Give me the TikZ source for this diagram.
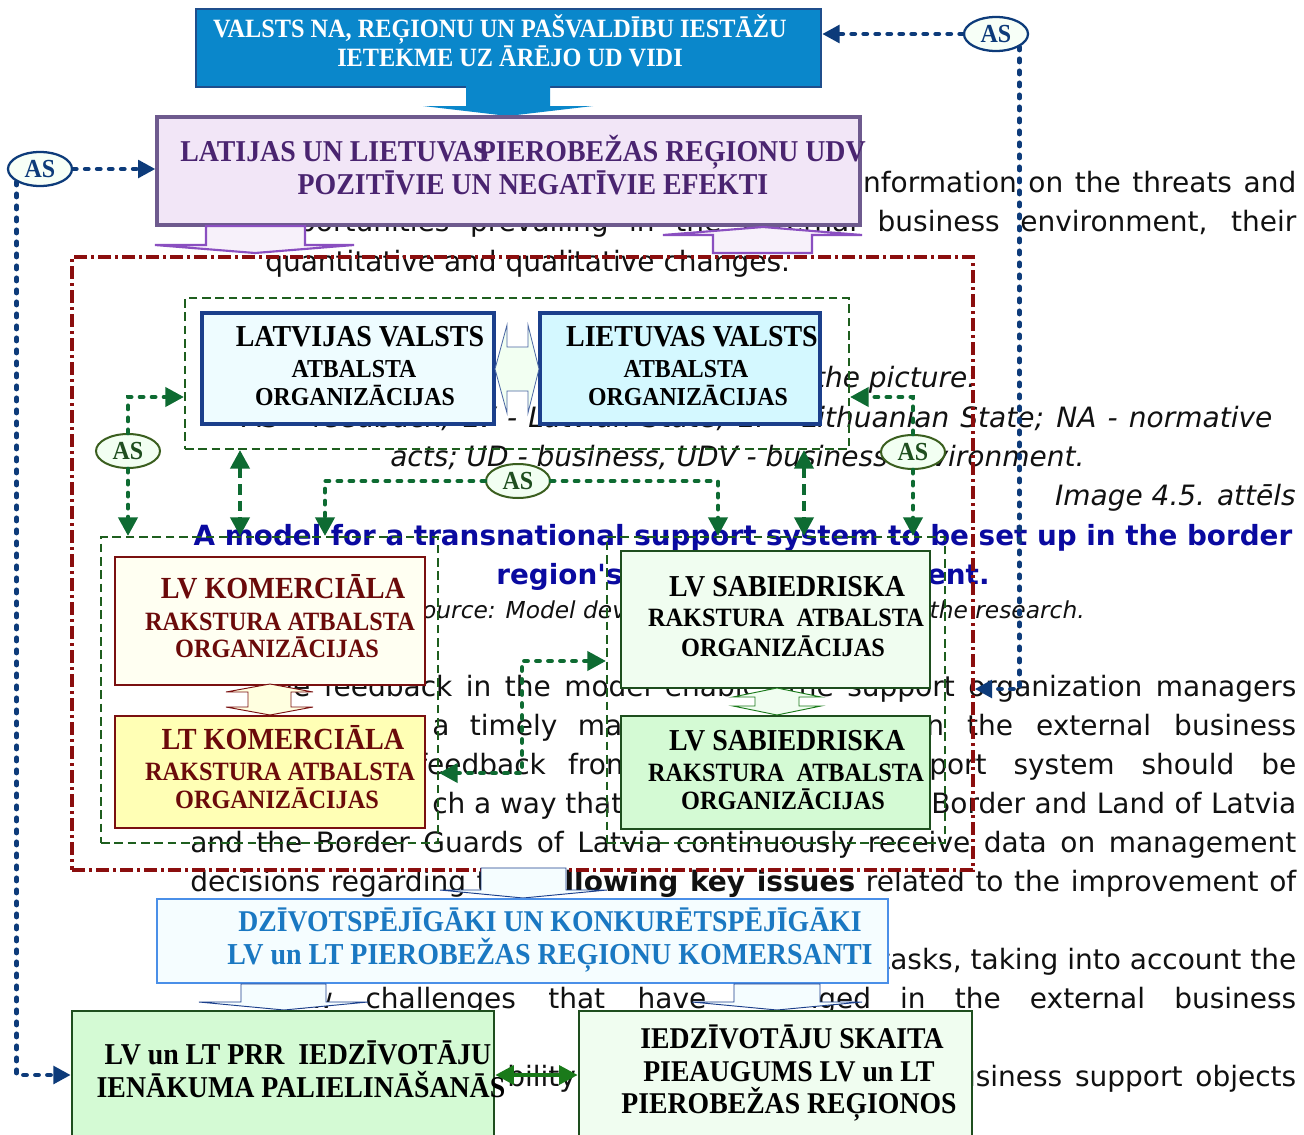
\documentclass[tikz,border=0pt]{standalone}
\usepackage{fontspec}
\usetikzlibrary{arrows.meta,shapes.geometric}
\setmainfont{Liberation Serif}
\newfontfamily\bgfont{DejaVu Sans}
\newfontfamily\dgfont[FakeStretch=0.92]{Liberation Serif}
\newcommand\dsz[1]{\dgfont\bfseries\fontsize{#1}{#1}\selectfont}
\newcommand\bsz[1]{\bgfont\fontsize{#1}{#1}\selectfont}
\definecolor{topblue}{HTML}{0A87CB}
\definecolor{topborder}{HTML}{1F4E8C}
\definecolor{purfill}{HTML}{F2E6F7}
\definecolor{purborder}{HTML}{6E5A8E}
\definecolor{purtext}{HTML}{4A2470}
\definecolor{purarrow}{HTML}{8A4FC0}
\definecolor{purafill}{HTML}{F7F1FA}
\definecolor{framered}{HTML}{8B0E0E}
\definecolor{navy}{HTML}{0D3B7A}
\definecolor{gdark}{HTML}{1E5E1E}
\definecolor{stborder}{HTML}{1B3F8B}
\definecolor{lvfill}{HTML}{EEFCFF}
\definecolor{ltfill}{HTML}{D4F8FF}
\definecolor{komborder}{HTML}{7A1010}
\definecolor{komtext}{HTML}{6B0A0A}
\definecolor{kom1fill}{HTML}{FFFFF2}
\definecolor{kom2fill}{HTML}{FFFFB5}
\definecolor{sabborder}{HTML}{1E4E1E}
\definecolor{sab1fill}{HTML}{F0FDF0}
\definecolor{sab2fill}{HTML}{D4FAD4}
\definecolor{asgborder}{HTML}{3A5E1E}
\definecolor{asgfill}{HTML}{F2FFF2}
\definecolor{gline}{HTML}{0E6B32}
\definecolor{dzborder}{HTML}{4A8FE8}
\definecolor{dzfill}{HTML}{F5FDFF}
\definecolor{dztext}{HTML}{1A78C2}
\definecolor{gsol}{HTML}{1A7A1A}
\definecolor{titleblue}{HTML}{0A0AA0}
\definecolor{bgtext}{HTML}{111111}
\begin{document}
\begin{tikzpicture}[x=0.75pt,y=-0.75pt,
  bgt/.style={inner sep=0pt, anchor=base west, text=bgtext, font=\bsz{21}},
  bgi/.style={bgt, font=\bsz{21}\itshape},
  bx/.style={draw, rectangle, inner sep=0pt},
  dtx/.style={inner sep=0pt, anchor=base},
  frame/.style={draw=framered, line width=2.6pt, dash pattern=on 10pt off 3pt on 2pt off 3pt},
  gbox/.style={draw=gdark, line width=1.4pt, dash pattern=on 6.5pt off 3.5pt},
  asg/.style={ellipse, draw=asgborder, fill=asgfill, line width=1.5pt, inner sep=0pt, minimum width=48pt, minimum height=25.5pt, text=sabborder, font=\dsz{19.5}},
  asb/.style={ellipse, draw=navy, fill=asgfill!60!white, line width=1.7pt, inner sep=0pt, minimum width=48pt, minimum height=25.5pt, text=navy, font=\dsz{19.5}},
  bdot/.style={draw=navy, line width=3.5pt, dash pattern=on 2.4pt off 6.6pt, line cap=round},
  gdot/.style={draw=gline, line width=3.5pt, dash pattern=on 2.4pt off 6.6pt, line cap=round},
  gdsh/.style={draw=gline, line width=3.6pt, dash pattern=on 8pt off 4.5pt},
  ntip/.style={-{Triangle[length=13pt,width=13pt]}},
  gtip/.style={-{Triangle[length=14pt,width=14pt]}},
  gboth/.style={{Triangle[length=14pt,width=14pt]}-{Triangle[length=14pt,width=14pt]}},
  blk/.style={line width=0.7pt, line join=miter}
]
\useasboundingbox (0,0) rectangle (1304,1135);
\fill[white] (0,0) rectangle (1304,1135);

% ---------- background document text ----------
\node[bgt] (b1) at (855,192) {\makebox[330.75pt][s]{information on the threats and}};
\node[bgt] (b2) at (263,231) {\makebox[774.75pt][s]{opportunities prevailing in the external business environment, their}};
\node[bgt] (b3) at (265,271) {quantitative and qualitative changes.};
\node[bgi, anchor=base east] (b4) at (977,387) {the picture:};
\node[bgi] (b5) at (243,427) {\makebox[771.75pt][s]{AS - feedback; LV - Latvian State; LT - Lithuanian State; NA - normative}};
\node[bgi] (b6) at (390,466) {acts; UD - business, UDV - business environment.};
\node[bgi, anchor=base east] (b7) at (1296,505) {Image 4.5. attēls};
\node[bgt, anchor=base, text=titleblue, font=\bsz{20.85}\bfseries] (b8) at (743,545) {A model for a transnational support system to be set up in the border};
\node[bgt, anchor=base, text=titleblue, font=\bsz{20.85}\bfseries] (b9) at (743,584) {region's business environment.};
\node[bgi, font=\bsz{17.5}\itshape] (b10a) at (407,618) {Source: Model developed};
\node[bgi, font=\bsz{17.5}\itshape, anchor=base east] (b10b) at (1085,618) {the research.};
\node[bgt] (b11) at (258,696) {\makebox[778.5pt][s]{The feedback in the model enables the support organization managers}};
\node[bgt] (b12a) at (432,735) {\makebox[142.5pt][s]{a timely ma}};
\node[bgt] (b12b) at (926,735) {\makebox[277.5pt][s]{n the external business}};
\node[bgt] (b13a) at (417,774) {\makebox[162pt][s]{feedback from}};
\node[bgt] (b13b) at (929,774) {\makebox[275.25pt][s]{port system should be}};
\node[bgt] (b14a) at (432,813) {\makebox[142.5pt][s]{ch a way that}};
\node[bgt] (b14b) at (931,813) {\makebox[273.75pt][s]{Border and Land of Latvia}};
\node[bgt] (b15) at (190,852) {\makebox[829.5pt][s]{and the Border Guards of Latvia continuously receive data on management}};
\node[bgt] (b16) at (190,891) {\makebox[829.5pt][s]{decisions regarding the {\bfseries following key issues} related to the improvement of}};
\node[bgt] (b17) at (879,969) {\makebox[312.75pt][s]{tasks, taking into account the}};
\node[bgt] (b18a) at (275,1008) {\makebox[323.25pt][s]{new challenges that have}};
\node[bgt] (b18b) at (750,1008) {\makebox[409.5pt][s]{changed in the external business}};
\node[bgt] (b19a) at (507,1086) {bility};
\node[bgt] (b19b) at (940,1086) {\makebox[267pt][s]{business support objects}};

% ---------- frames ----------
\node[bx, frame, minimum width=675.75pt, minimum height=459.75pt] (frame) at (522.5,563.5) {};
\node[bx, gbox, minimum width=498pt, minimum height=113.25pt] (gtop) at (517,373.5) {};
\node[bx, gbox, minimum width=252.75pt, minimum height=229.5pt] (gleft) at (269.5,690) {};
\node[bx, gbox, minimum width=253.5pt, minimum height=229.5pt] (gright) at (776,690) {};

% ---------- top boxes ----------
\node[bx, draw=topborder, fill=topblue, line width=1.8pt, minimum width=468.75pt, minimum height=58.5pt] (top) at (508.5,48) {};
\node[dtx, text=white, font=\dsz{19.8}] (t1) at (500,37) {VALSTS NA, REĢIONU UN PAŠVALDĪBU IESTĀŽU};
\node[dtx, text=white, font=\dsz{19.8}] (t2) at (510,66) {IETEKME UZ ĀRĒJO UD VIDI};
\fill[topblue] (466,86) -- (550,86) -- (550,106) -- (593,106) -- (508,116) -- (423,106) -- (466,106) -- cycle;

\node[bx, draw=purborder, fill=purfill, line width=2.4pt, minimum width=527.25pt, minimum height=81pt] (pur) at (508.5,171) {};
\node[dtx, anchor=base west, text=purtext, font=\dsz{22.7}] (p1) at (180,161) {LATIJAS UN LIETUVAS};
\node[dtx, anchor=base east, text=purtext, font=\dsz{22.7}] (p2) at (866,161) {PIEROBEŽAS REĢIONU UDV};
\node[dtx, text=purtext, font=\dsz{22.7}] (p3) at (533,194) {POZITĪVIE UN NEGATĪVIE EFEKTI};
\draw[blk, draw=purarrow, fill=purafill, line width=1.6pt] (206,226) -- (305,226) -- (305,245) -- (354,245) -- (255,253) -- (155,245) -- (206,245) -- cycle;
\draw[blk, draw=purarrow, fill=purafill, line width=1.6pt] (713,253) -- (812,253) -- (812,235) -- (862,235) -- (763,227) -- (663,235) -- (713,235) -- cycle;

% ---------- state boxes ----------
\node[bx, draw=stborder, fill=lvfill, line width=2.4pt, minimum width=219pt, minimum height=83.25pt] (lvs) at (348,368.5) {};
\node[bx, draw=stborder, fill=ltfill, line width=2.4pt, minimum width=210pt, minimum height=83.25pt] (lts) at (680,368.5) {};
\node[dtx, font=\dsz{22.8}] (s1) at (360,346) {LATVIJAS VALSTS};
\node[dtx, font=\dsz{19.4}] (s2) at (354,377) {ATBALSTA};
\node[dtx, font=\dsz{19.4}] (s3) at (355,405) {ORGANIZĀCIJAS};
\node[dtx, font=\dsz{22.8}] (s4) at (692,346) {LIETUVAS VALSTS};
\node[dtx, font=\dsz{19.4}] (s5) at (686,377) {ATBALSTA};
\node[dtx, font=\dsz{19.4}] (s6) at (688,405) {ORGANIZĀCIJAS};
\draw[blk, draw=stborder!80!white, fill=asgfill, line width=0.6pt] (495,369) -- (507,325) -- (507,347) -- (528,347) -- (528,325) -- (539,369) -- (528,413) -- (528,391) -- (507,391) -- (507,413) -- cycle;

% ---------- commercial boxes ----------
\node[bx, draw=komborder, fill=kom1fill, line width=1.8pt, minimum width=232.5pt, minimum height=96pt] (lvk) at (270,621) {};
\node[bx, draw=komborder, fill=kom2fill, line width=1.8pt, minimum width=232.5pt, minimum height=84pt] (ltk) at (270,772) {};
\node[dtx, text=komtext, font=\dsz{23}] (k1) at (283,598) {LV KOMERCIĀLA};
\node[dtx, text=komtext, font=\dsz{19.8}] (k2) at (280,630) {RAKSTURA ATBALSTA};
\node[dtx, text=komtext, font=\dsz{19.8}] (k3) at (277,657) {ORGANIZĀCIJAS};
\node[dtx, text=komtext, font=\dsz{23}] (k4) at (283,749) {LT KOMERCIĀLA};
\node[dtx, text=komtext, font=\dsz{19.8}] (k5) at (280,780) {RAKSTURA ATBALSTA};
\node[dtx, text=komtext, font=\dsz{19.8}] (k6) at (277,808) {ORGANIZĀCIJAS};
\draw[blk, draw=komborder, fill=kom1fill!70!kom2fill, line width=0.7pt] (270,684) -- (313,692) -- (291,692) -- (291,707) -- (313,707) -- (270,715) -- (226,707) -- (248,707) -- (248,692) -- (226,692) -- cycle;

% ---------- social boxes ----------
\node[bx, draw=sabborder, fill=sab1fill, line width=1.9pt, minimum width=231.75pt, minimum height=102.75pt] (sab1) at (775.5,619.5) {};
\node[bx, draw=sabborder, fill=sab2fill, line width=1.9pt, minimum width=231.75pt, minimum height=84.75pt] (sab2) at (775.5,772.5) {};
\node[dtx, font=\dsz{22.8}] (q1) at (787,596) {LV SABIEDRISKA};
\node[dtx, font=\dsz{19.8}] (q2) at (786,626) {RAKSTURA\ \ ATBALSTA};
\node[dtx, font=\dsz{19.8}] (q3) at (783,656) {ORGANIZĀCIJAS};
\node[dtx, font=\dsz{22.8}] (q4) at (787,750) {LV SABIEDRISKA};
\node[dtx, font=\dsz{19.8}] (q5) at (786,781) {RAKSTURA\ \ ATBALSTA};
\node[dtx, font=\dsz{19.8}] (q6) at (783,809) {ORGANIZĀCIJAS};
\draw[blk, draw=gsol, fill=sab1fill, line width=0.7pt] (777,688) -- (821,697) -- (799,697) -- (799,706) -- (821,706) -- (777,715) -- (733,706) -- (755,706) -- (755,697) -- (733,697) -- cycle;

% ---------- lower part ----------
\draw[blk, draw=stborder, fill=dzfill, line width=0.7pt] (481,868) -- (566,868) -- (566,890) -- (607,890) -- (523,898) -- (440,890) -- (481,890) -- cycle;
\node[bx, draw=dzborder, fill=dzfill, line width=2pt, minimum width=548.25pt, minimum height=63pt] (dz) at (522.5,941) {};
\node[dtx, text=dztext, font=\dsz{22.6}] (d1) at (550,931) {DZĪVOTSPĒJĪGĀKI UN KONKURĒTSPĒJĪGĀKI};
\node[dtx, text=dztext, font=\dsz{22.8}] (d2) at (550,964) {LV un LT PIEROBEŽAS REĢIONU KOMERSANTI};
\draw[blk, draw=stborder, fill=dzfill, line width=0.7pt] (241,984) -- (326,984) -- (326,1002) -- (368,1002) -- (284,1010) -- (199,1002) -- (241,1002) -- cycle;
\draw[blk, draw=stborder, fill=dzfill, line width=0.7pt] (734,984) -- (820,984) -- (820,1002) -- (862,1002) -- (777,1010) -- (692,1002) -- (734,1002) -- cycle;

\node[bx, draw=sabborder, fill=sab2fill, line width=1.9pt, minimum width=316.5pt, minimum height=104.25pt] (bl) at (283,1080.5) {};
\node[bx, draw=sabborder, fill=sab1fill, line width=1.9pt, minimum width=294.75pt, minimum height=104.25pt] (br) at (775.5,1080.5) {};
\node[dtx, font=\dsz{22.7}] (e1) at (298,1064) {LV un LT PRR\ \ IEDZĪVOTĀJU};
\node[dtx, font=\dsz{22.7}] (e2) at (301,1097) {IENĀKUMA PALIELINĀŠANĀS};
\node[dtx, font=\dsz{22.6}] (f1) at (792,1048) {IEDZĪVOTĀJU SKAITA};
\node[dtx, font=\dsz{22.6}] (f2) at (789,1081) {PIEAUGUMS LV un LT};
\node[dtx, font=\dsz{22.6}] (f3) at (789,1113) {PIEROBEŽAS REĢIONOS};

% ---------- AS ellipses ----------
\node[asb] (asL) at (40,169) {AS};
\node[asb] (asR) at (996,34) {AS};
\node[asg] (as1) at (128,451) {AS};
\node[asg] (as2) at (518,481) {AS};
\node[asg] (as3) at (913,452) {AS};

% ---------- helper coordinates ----------
\coordinate (y397) at (0,397);
\coordinate (y661) at (0,661);
\coordinate (y773) at (0,773);
\coordinate (y689) at (0,689);
\coordinate (y1075) at (0,1075);
\coordinate (x240) at (240,0);
\coordinate (x325) at (325,0);
\coordinate (x718) at (718,0);
\coordinate (x804) at (804,0);
\coordinate (x522) at (522,0);

% ---------- connectors ----------
\draw[bdot, ntip] (asL.east) -- (asL.east -| pur.west);
\draw[bdot, ntip] (asL.south west) |- (bl.west |- y1075);
\draw[bdot, ntip] (asR.west) -- (asR.west -| top.east);
\draw[bdot, ntip] (asR.south east) |- (frame.east |- y689);

\draw[gdot, gtip] (as1.north) |- (gtop.west |- y397);
\draw[gdot, gtip] (as1.south) -- (as1.south |- gleft.north);
\draw[gdsh, gboth] (gtop.south -| x240) -- (gleft.north -| x240);
\draw[gdot, gtip] (as2.west) -| (gleft.north -| x325);
\draw[gdot, gtip] (as2.east) -| (gright.north -| x718);
\draw[gdsh, gboth] (gtop.south -| x804) -- (gright.north -| x804);
\draw[gdot, gtip] (as3.north) |- (gtop.east |- y397);
\draw[gdot, gtip] (as3.south) -- (as3.south |- gright.north);
\draw[gdot, gboth] (gleft.east |- y773) -| (x522 |- y661) -- (gright.west |- y661);
\draw[draw=gsol, line width=3.2pt, gboth] (bl.east |- y1075) -- (br.west |- y1075);
\end{tikzpicture}
\end{document}
